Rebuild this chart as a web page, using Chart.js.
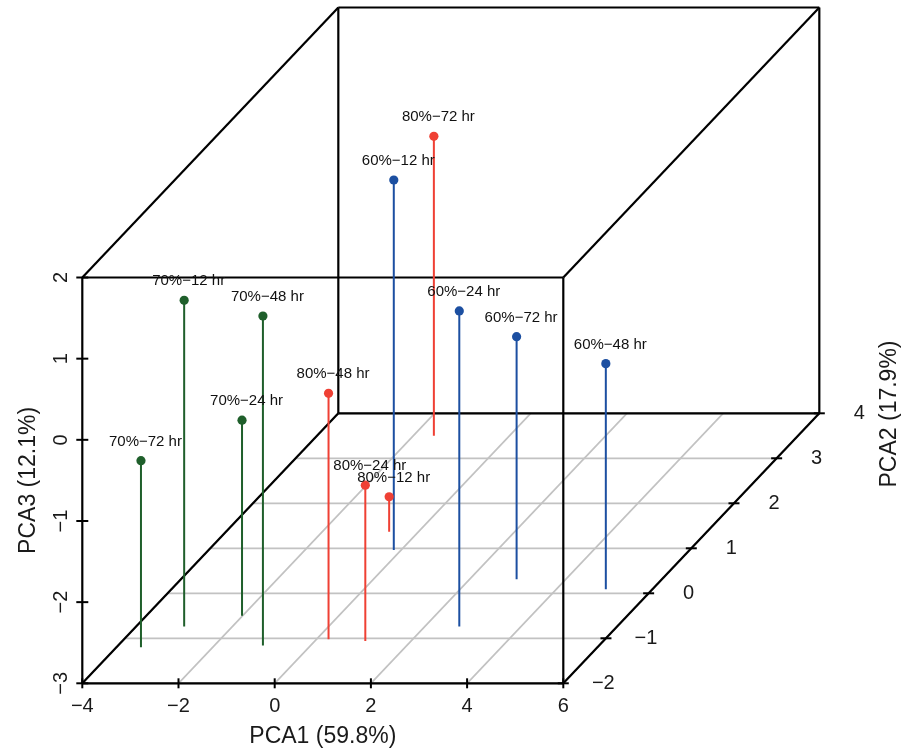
<!DOCTYPE html>
<html>
<head>
<meta charset="utf-8">
<title>PCA 3D</title>
<script src="https://cdn.jsdelivr.net/npm/chart.js@4.4.1/dist/chart.umd.min.js"></script>
<style>
  html, body { margin: 0; padding: 0; background: #fff; }
  #wrap { width: 914px; height: 752px; position: relative; }
</style>
</head>
<body>
<div id="wrap"><canvas id="pcaChart"></canvas></div>
<script>
// data (PCA1, PCA2, PCA3)
const labels70 = ["70%\u221212 hr", "70%\u221224 hr", "70%\u221248 hr", "70%\u221272 hr"];
const pca1_70 = [-3.00, -2.01, -0.99, -3.49];
const pca2_70 = [-0.74, -0.50, -1.16, -1.20];
const pca3_70 = [1.02, -0.59, 1.06, -0.70];

const labels80 = ["80%\u221212 hr", "80%\u221224 hr", "80%\u221248 hr", "80%\u221272 hr"];
const pca1_80 = [-0.61, 1.05, 0.25, -1.57];
const pca2_80 = [1.37, -1.06, -1.02, 3.50];
const pca3_80 = [-2.57, -1.08, 0.03, 0.69];

const labels60 = ["60%\u221212 hr", "60%\u221224 hr", "60%\u221248 hr", "60%\u221272 hr"];
const pca1_60 = [-0.15, 2.72, 5.03, 2.98];
const pca2_60 = [0.96, -0.74, 0.09, 0.31];
const pca3_60 = [1.56, 0.89, -0.22, -0.01];

const pca1Ticks = [-4, -2, 0, 2, 4, 6];
const pca2Ticks = [-2, -1, 0, 1, 2, 3, 4];
const pca3Ticks = [-3, -2, -1, 0, 1, 2];

const axisTitles = { x: "PCA1 (59.8%)", y: "PCA2 (17.9%)", z: "PCA3 (12.1%)" };

// view settings (oblique projection, like scatterplot3d)
const PX_X = 48.1, PX_Z = 81.16;          // pixels per unit on the front face
const LEFT = 82.3, BOTTOM = 683.3;        // pixel position of (-4, -3)
const DEPTH_X = 42.67 / PX_X, DEPTH_Z = 45 / PX_Z; // shift per PCA2 unit
const W = 914, H = 752;
const FONT = '"Liberation Sans", Arial, Helvetica, sans-serif';

const x0 = pca1Ticks[0], y0 = pca2Ticks[0], z0 = pca3Ticks[0];
const x1 = pca1Ticks[pca1Ticks.length - 1], y1 = pca2Ticks[pca2Ticks.length - 1], z1 = pca3Ticks[pca3Ticks.length - 1];

function proj(a, b, c) {
  return { x: a + DEPTH_X * (b - y0), y: c + DEPTH_Z * (b - y0) };
}

function segment(p, q, color, width, order) {
  return {
    type: "line",
    data: [proj(p[0], p[1], p[2]), proj(q[0], q[1], q[2])],
    borderColor: color,
    borderWidth: width,
    pointRadius: 0,
    fill: false,
    clip: false,
    order: order,
  };
}

const datasets = [];

// floor grid
pca1Ticks.forEach((t) => datasets.push(segment([t, y0, z0], [t, y1, z0], "#c2c2c2", 1.7, 60)));
pca2Ticks.forEach((t) => datasets.push(segment([x0, t, z0], [x1, t, z0], "#c2c2c2", 1.7, 60)));

// box
const corners = [];
[x0, x1].forEach((a) => [y0, y1].forEach((b) => [z0, z1].forEach((c) => corners.push([a, b, c]))));
corners.forEach((p, i) => {
  corners.forEach((q, j) => {
    if (j <= i) return;
    let diff = 0;
    for (let k = 0; k < 3; k++) if (p[k] !== q[k]) diff++;
    if (diff === 1) datasets.push(segment(p, q, "#000", 2.2, 50));
  });
});

const groups = [
  { labels: labels70, a: pca1_70, b: pca2_70, c: pca3_70, color: "#1f5f2b" },
  { labels: labels80, a: pca1_80, b: pca2_80, c: pca3_80, color: "#ef4034" },
  { labels: labels60, a: pca1_60, b: pca2_60, c: pca3_60, color: "#1c4fa1" },
];

// stems (type = "h")
groups.forEach((g) => {
  g.a.forEach((v, i) => datasets.push(segment([v, g.b[i], g.c[i]], [v, g.b[i], z0], g.color, 2, 30)));
});

// points
groups.forEach((g) => {
  datasets.push({
    type: "scatter",
    data: g.a.map((v, i) => proj(v, g.b[i], g.c[i])),
    backgroundColor: g.color,
    borderColor: g.color,
    pointRadius: 4.6,
    borderWidth: 0,
    clip: false,
    order: 10,
  });
});

// ticks, tick labels, axis titles and point labels
const textPlugin = {
  id: "pcaText",
  afterDatasetsDraw(chart) {
    const xs = chart.scales.x, ys = chart.scales.y, ctx = chart.ctx;
    const px = (a, b, c) => {
      const p = proj(a, b, c);
      return [xs.getPixelForValue(p.x), ys.getPixelForValue(p.y)];
    };
    const fmt = (t) => String(t).replace("-", "\u2212");
    ctx.save();
    ctx.strokeStyle = "#000";
    ctx.lineWidth = 2;
    ctx.fillStyle = "#1a1a1a";
    ctx.textAlign = "center";
    ctx.textBaseline = "middle";

    // PCA1 along front bottom edge
    ctx.font = "20px " + FONT;
    pca1Ticks.forEach((t) => {
      const [x, y] = px(t, y0, z0);
      ctx.beginPath(); ctx.moveTo(x, y - 5); ctx.lineTo(x, y + 5); ctx.stroke();
      ctx.fillText(fmt(t), x, y + 23);
    });

    // PCA3 along front left edge
    pca3Ticks.forEach((t) => {
      const [x, y] = px(x0, y0, t);
      ctx.beginPath(); ctx.moveTo(x - 6, y); ctx.lineTo(x + 6, y); ctx.stroke();
      ctx.save();
      ctx.translate(x - 21, y);
      ctx.rotate(-Math.PI / 2);
      ctx.fillText(fmt(t), 0, 0);
      ctx.restore();
    });

    // PCA2 along the right floor edge
    pca2Ticks.forEach((t) => {
      const [x, y] = px(x1, t, z0);
      ctx.beginPath(); ctx.moveTo(x - 5.5, y); ctx.lineTo(x + 5.5, y); ctx.stroke();
      ctx.fillText(fmt(t), x + 40, y);
    });

    // axis titles
    ctx.font = "23px " + FONT;
    const [fl, fb] = px(x0, y0, z0);
    const [fr] = px(x1, y0, z0);
    const [, ft] = px(x0, y0, z1);
    ctx.fillText(axisTitles.x, (fl + fr) / 2, 737);
    ctx.save();
    ctx.translate(29, (fb + ft) / 2);
    ctx.rotate(-Math.PI / 2);
    ctx.fillText(axisTitles.z, 0, 0);
    ctx.restore();
    ctx.save();
    ctx.translate(890, 414);
    ctx.rotate(-Math.PI / 2);
    ctx.fillText(axisTitles.y, 0, 0);
    ctx.restore();

    // point labels
    ctx.font = "15px " + FONT;
    ctx.fillStyle = "#111";
    groups.forEach((g) => {
      g.a.forEach((v, i) => {
        const [x, y] = px(v, g.b[i], g.c[i]);
        ctx.fillText(g.labels[i], x + 4.5, y - 19);
      });
    });
    ctx.restore();
  },
};

new Chart(document.getElementById("pcaChart"), {
  type: "scatter",
  data: { datasets: datasets },
  options: {
    responsive: true,
    maintainAspectRatio: false,
    animation: false,
    devicePixelRatio: 1,
    events: [],
    layout: { padding: 0, autoPadding: false },
    plugins: { legend: { display: false }, tooltip: { enabled: false } },
    scales: {
      x: { type: "linear", display: false, min: x0 - LEFT / PX_X, max: x0 - LEFT / PX_X + W / PX_X },
      y: { type: "linear", display: false, min: z0 - (H - BOTTOM) / PX_Z, max: z0 - (H - BOTTOM) / PX_Z + H / PX_Z },
    },
  },
  plugins: [textPlugin],
});
</script>
</body>
</html>
